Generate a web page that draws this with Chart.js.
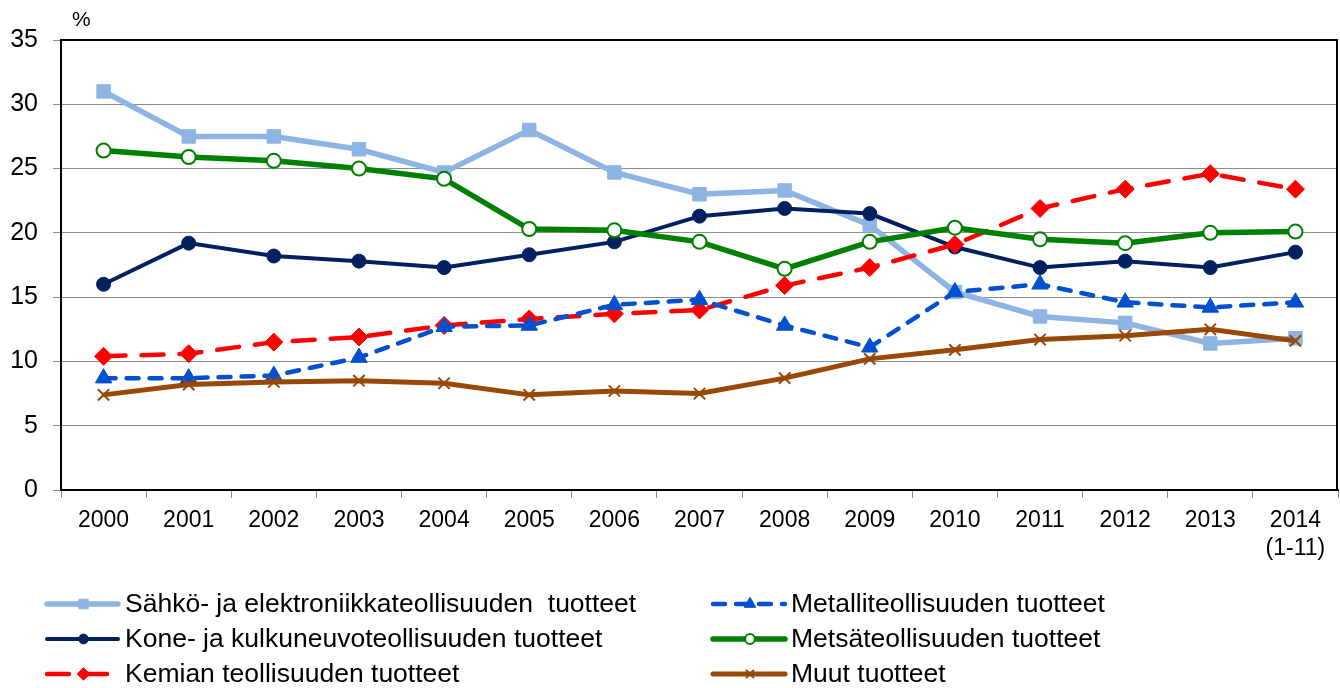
<!DOCTYPE html>
<html>
<head>
<meta charset="utf-8">
<script src="https://cdn.jsdelivr.net/npm/chart.js@4.4.0/dist/chart.umd.min.js"></script>
<style>
  html, body { margin: 0; padding: 0; background: #fff; }
  #chart { display: block; }
</style>
</head>
<body>
<canvas id="chart" width="1340" height="688"></canvas>
<script>
"use strict";

// Data

const YEARS = ["2000", "2001", "2002", "2003", "2004", "2005", "2006", "2007",
               "2008", "2009", "2010", "2011", "2012", "2013", ["2014", "(1-11)"]];
const Y_TICKS = [0, 5, 10, 15, 20, 25, 30, 35];

const SAHKO   = [31.0, 27.5, 27.5, 26.5, 24.7, 28.0, 24.7, 23.0, 23.3, 20.6, 15.4, 13.5, 13.0, 11.4, 11.8];
const KONE    = [16.0, 19.2, 18.2, 17.8, 17.3, 18.3, 19.3, 21.3, 21.9, 21.5, 18.9, 17.3, 17.8, 17.3, 18.5];
const KEMIAN  = [10.4, 10.6, 11.5, 11.9, 12.8, 13.3, 13.7, 14.0, 15.9, 17.3, 19.1, 21.9, 23.4, 24.6, 23.4];
const METALLI = [8.7, 8.7, 8.9, 10.3, 12.7, 12.8, 14.4, 14.8, 12.8, 11.1, 15.4, 16.0, 14.6, 14.2, 14.6];
const METSA   = [26.4, 25.9, 25.6, 25.0, 24.2, 20.3, 20.2, 19.3, 17.2, 19.3, 20.4, 19.5, 19.2, 20.0, 20.1];
const MUUT    = [7.4, 8.2, 8.4, 8.5, 8.3, 7.4, 7.7, 7.5, 8.7, 10.2, 10.9, 11.7, 12.0, 12.5, 11.6];

const FONT = "'Liberation Sans', Arial, sans-serif";

// Series styles

function series(label, data, color, opts) {
    return Object.assign({
        label: label,
        data: data,
        borderColor: color,
        backgroundColor: color,
        pointBackgroundColor: color,
        pointBorderColor: color,
        pointBorderWidth: 1,
        borderWidth: 5,
        tension: 0,
        fill: false
    }, opts);
}

const datasets = [
    series("Sähkö- ja elektroniikkateollisuuden  tuotteet", SAHKO, "#8DB4E2",
           { borderWidth: 5.5, pointStyle: "rect", pointRadius: 9.5, order: 5 }),
    series("Kone- ja kulkuneuvoteollisuuden tuotteet", KONE, "#002060",
           { borderWidth: 4, pointStyle: "circle", pointRadius: 7, order: 4 }),
    series("Kemian teollisuuden tuotteet", KEMIAN, "#FF0000",
           { borderWidth: 4.5, borderDash: [22, 16], borderCapStyle: "round",
             pointStyle: "rectRot", pointRadius: 9, order: 3 }),
    series("Metalliteollisuuden tuotteet", METALLI, "#0050D0",
           { borderWidth: 4.5, borderDash: [12, 11], borderCapStyle: "round",
             pointStyle: "triangle", pointRadius: 9.5, order: 2 }),
    series("Metsäteollisuuden tuotteet", METSA, "#008000",
           { borderWidth: 5.5, pointStyle: "circle", pointRadius: 7, pointBackgroundColor: "#fff",
             pointBorderWidth: 2, order: 1 }),
    series("Muut tuotteet", MUUT, "#984807",
           { pointStyle: "crossRot", pointRadius: 8, pointBorderWidth: 2, order: 0 })
];

// Legend layout: two columns, three rows (left/right pairs)

const LEGEND_ORDER = [0, 3, 1, 4, 2, 5];
const LEGEND_ROWS = [604, 639, 674];
const LEGEND_COLS = [{ x1: 47, x2: 118, text: 125 }, { x1: 713, x2: 785, text: 791 }];

const framePlugin = {
    id: "frame",
    afterDraw(chart) {
        const ctx = chart.ctx;
        const a = chart.chartArea;
        ctx.save();

        // top and right border of the plot
        ctx.strokeStyle = "#000";
        ctx.lineWidth = 2;
        ctx.beginPath();
        ctx.moveTo(a.left, a.top);
        ctx.lineTo(a.right - 1, a.top);
        ctx.lineTo(a.right - 1, a.bottom);
        ctx.stroke();

        // unit label
        ctx.fillStyle = "#000";
        ctx.font = "21px " + FONT;
        ctx.textBaseline = "middle";
        ctx.textAlign = "left";
        ctx.fillText("%", 72, 20);

        // legend
        ctx.font = "26.5px " + FONT;
        LEGEND_ORDER.forEach(function(dsIndex, i) {
            const ds = chart.data.datasets[dsIndex];
            const col = LEGEND_COLS[i % 2];
            const y = LEGEND_ROWS[Math.floor(i / 2)];

            ctx.save();
            ctx.strokeStyle = ds.borderColor;
            ctx.lineWidth = ds.borderWidth;
            ctx.lineCap = ds.borderCapStyle || "round";
            ctx.setLineDash(ds.borderDash || []);
            ctx.beginPath();
            ctx.moveTo(col.x1, y);
            ctx.lineTo(col.x2, y);
            ctx.stroke();
            ctx.restore();

            ctx.save();
            ctx.fillStyle = ds.pointBackgroundColor;
            ctx.strokeStyle = ds.pointBorderColor;
            ctx.lineWidth = ds.pointBorderWidth;
            Chart.helpers.drawPoint(ctx, {
                pointStyle: ds.pointStyle,
                radius: ds.pointRadius * 0.7,
                rotation: 0,
                borderWidth: ds.pointBorderWidth
            }, (col.x1 + col.x2) / 2 + 1, y);
            ctx.restore();

            ctx.fillStyle = "#000";
            ctx.fillText(ds.label, col.text, y + 1);
        });

        ctx.restore();
    }
};

const ctx_line = document.getElementById("chart").getContext("2d");

let exportChart = new Chart(ctx_line, {
    type: "line",
    data: {
        labels: YEARS,
        datasets: datasets
    },
    options: {
        responsive: false,
        animation: false,
        layout: {
            autoPadding: false,
            padding: { top: 40, right: 2, left: 0, bottom: 0 }
        },
        plugins: {
            legend: { display: false },
            tooltip: { enabled: false }
        },
        scales: {
            x: {
                offset: true,
                afterFit: function(scale) {
                    scale.height = 198;
                    scale.paddingLeft = 0;
                    scale.paddingRight = 0;
                },
                grid: {
                    offset: true,
                    drawOnChartArea: false,
                    tickLength: 8,
                    color: "#8c8c8c"
                },
                border: { color: "#000", width: 2 },
                ticks: {
                    color: "#000",
                    font: { family: FONT, size: 23 },
                    maxRotation: 0,
                    autoSkip: false,
                    padding: 9
                }
            },
            y: {
                min: 0,
                max: 35,
                afterFit: function(scale) {
                    scale.width = 61;
                    scale.paddingTop = 0;
                    scale.paddingBottom = 0;
                },
                afterBuildTicks: function(scale) {
                    scale.ticks = Y_TICKS.map(function(v) { return { value: v }; });
                },
                grid: {
                    color: "#8c8c8c",
                    tickLength: 8
                },
                border: { color: "#000", width: 2 },
                ticks: {
                    color: "#000",
                    font: { family: FONT, size: 25 },
                    padding: 15
                }
            }
        }
    },
    plugins: [framePlugin]
});
</script>
</body>
</html>
